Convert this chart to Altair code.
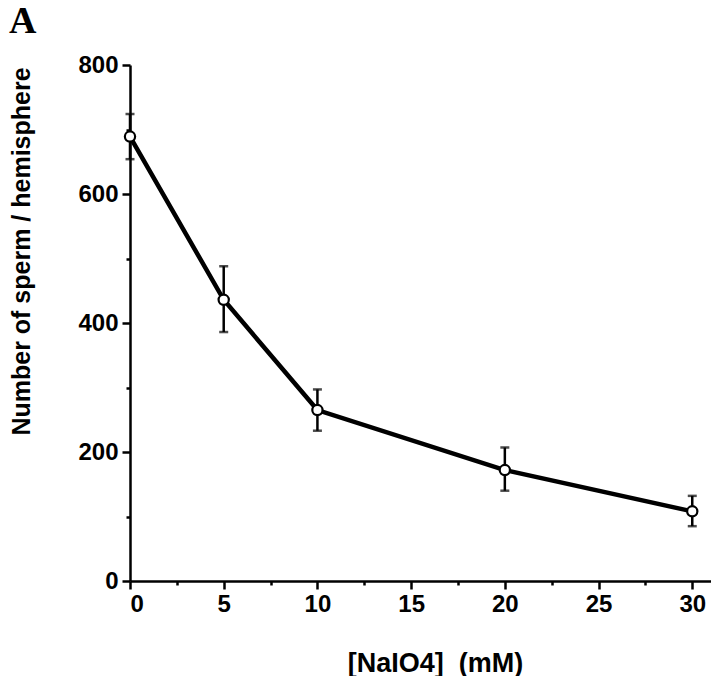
import altair as alt
import pandas as pd

# Data
conc = [0, 5, 10, 20, 30]
sperm = [689, 436, 265, 172, 108]
err_hi = [724, 488, 297, 207, 132]
err_lo = [654, 386, 233, 140, 85]

x_tick_values = [0, 2.5, 5, 7.5, 10, 12.5, 15, 17.5, 20, 22.5, 25, 27.5, 30]
y_tick_values = [0, 100, 200, 300, 400, 500, 600, 700, 800]

panel_label = ["A"]

df = pd.DataFrame({"conc": conc, "sperm": sperm, "hi": err_hi, "lo": err_lo})
df_label = pd.DataFrame({"label": panel_label})

FONT = "Liberation Sans"

x_scale = alt.Scale(domain=[0, 31], nice=False, zero=False)
y_scale = alt.Scale(domain=[0, 800], nice=False)

x_axis = alt.Axis(
    title="[NaIO4]\u00a0\u00a0(mM)",
    values=x_tick_values,
    labelExpr="datum.value % 5 === 0 ? datum.label : ''",
    tickSize={"condition": {"test": "datum.value % 5 !== 0", "value": 4}, "value": 8},
    grid=False,
    domainColor="black", domainWidth=2.5,
    tickColor="black", tickWidth=2.5,
    labelFont=FONT, labelFontSize=24, labelFontWeight="bold", labelColor="black",
    labelPadding=3,
    titleFont=FONT, titleFontSize=27, titleFontWeight="bold", titleColor="black",
    titleX=305, titleY=82, titleBaseline="middle", titleAlign="center",
)

y_axis = alt.Axis(
    title="Number of sperm / hemisphere",
    values=y_tick_values,
    labelExpr="datum.value % 200 === 0 ? datum.label : ''",
    tickSize={"condition": {"test": "datum.value % 200 !== 0", "value": 4}, "value": 8},
    grid=False,
    domainColor="black", domainWidth=2.5,
    tickColor="black", tickWidth=2.5,
    labelFont=FONT, labelFontSize=24, labelFontWeight="bold", labelColor="black",
    labelPadding=4,
    titleFont=FONT, titleFontSize=25, titleFontWeight="bold", titleColor="black",
    titleX=-109, titleY=186, titleBaseline="middle", titleAlign="center", titleAngle=-90,
)

base = alt.Chart(df)

err = base.mark_rule(color="black", strokeWidth=2.5).encode(
    x=alt.X("conc:Q", scale=x_scale, axis=x_axis),
    y=alt.Y("lo:Q", scale=y_scale, axis=y_axis),
    y2="hi:Q",
)
cap_hi = base.mark_tick(color="black", orient="horizontal", size=9, thickness=2.5).encode(
    x=alt.X("conc:Q", scale=x_scale, axis=x_axis),
    y=alt.Y("hi:Q", scale=y_scale, axis=y_axis),
)
cap_lo = base.mark_tick(color="black", orient="horizontal", size=9, thickness=2.5).encode(
    x=alt.X("conc:Q", scale=x_scale, axis=x_axis),
    y=alt.Y("lo:Q", scale=y_scale, axis=y_axis),
)
line = base.mark_line(color="black", strokeWidth=4.5).encode(
    x=alt.X("conc:Q", scale=x_scale, axis=x_axis),
    y=alt.Y("sperm:Q", scale=y_scale, axis=y_axis),
)
pts = base.mark_point(
    shape="circle", filled=True, fill="white", stroke="black", strokeWidth=2.2, size=105, opacity=1
).encode(
    x=alt.X("conc:Q", scale=x_scale, axis=x_axis),
    y=alt.Y("sperm:Q", scale=y_scale, axis=y_axis),
)

label = alt.Chart(df_label).mark_text(
    font="Liberation Serif", fontSize=38, fontWeight="bold", color="black",
    align="left", baseline="alphabetic",
).encode(text="label:N", x=alt.value(-121), y=alt.value(-32))

chart = (
    alt.layer(err, cap_hi, cap_lo, line, pts, label)
    .properties(
        width=581,
        height=516,
        background="white",
        autosize=alt.AutoSizeParams(type="none"),
        padding={"left": 122, "top": 57, "right": 0, "bottom": 95},
    )
    .configure_view(stroke=None, strokeWidth=0)
    .configure_axis(grid=False)
)

chart.save("out.html", embed_options={"renderer": "svg", "actions": False})
